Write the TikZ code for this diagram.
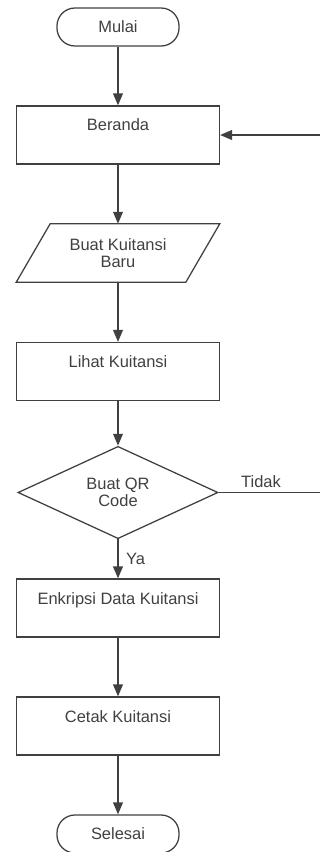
\documentclass[tikz,border=0pt]{standalone}
\usepackage{fontspec}
\setmainfont{Liberation Sans}
\usetikzlibrary{shapes.geometric,arrows.meta}
\begin{document}
\begin{tikzpicture}[x=0.025cm, y=-0.025cm, font=\fontsize{11.7}{12.5}\selectfont,
                    every node/.style={text=black!75},
                    box/.style={draw=black!75, line width=0.9pt},
                    startstop/.style={box, rounded corners=0.45cm, minimum width=3.05cm, minimum height=0.95cm, inner sep=0pt},
                    process/.style={box, minimum width=5.075cm, inner sep=0pt, text height=0.625cm, text depth=0.825cm},
                    io/.style={minimum width=5.075cm, minimum height=1.45cm, inner sep=0pt, align=center},
                    decision/.style={box, diamond, minimum width=5cm, minimum height=1.525cm, inner sep=0pt, align=center},
                    arrow/.style={box, -{Triangle[width=7pt,length=8.5pt]}}]
                    \useasboundingbox (0,0) rectangle (320,852);
                    \clip (0,0) rectangle (320,852);
                    \node[startstop] (mulai) at (118,27) {Mulai};
                    \node[process] (beranda) at (118,135) {Beranda};
                    \node[io] (buat) at (118,253) {Buat Kuitansi\\Baru};
                    \draw[box] ([xshift=0.85cm]buat.north west) -- (buat.north east) -- ([xshift=-0.85cm]buat.south east) -- (buat.south west) -- cycle;
                    \node[process] (lihat) at (118,371.5) {Lihat Kuitansi};
                    \node[decision] (qr) at (118,492.5) {Buat QR\\Code};
                    \node[process] (enkripsi) at (118,608) {Enkripsi Data Kuitansi};
                    \node[process] (cetak) at (118,726) {Cetak Kuitansi};
                    \node[startstop] (selesai) at (118,834) {Selesai};
                    \coordinate (balik) at (330,492.5);
                    \draw[arrow] (mulai) -- (beranda);
                    \draw[arrow] (beranda) -- (buat);
                    \draw[arrow] (buat) -- (lihat);
                    \draw[arrow] (lihat) -- (qr);
                    \draw[arrow] (qr) -- node[right, xshift=2pt] {Ya} (enkripsi);
                    \draw[arrow] (enkripsi) -- (cetak);
                    \draw[arrow] (cetak) -- (selesai);
                    \draw[arrow] (qr.east) -- node[above, pos=0.38] {Tidak} (balik) |- (beranda.east);
                \end{tikzpicture}
\end{document}
